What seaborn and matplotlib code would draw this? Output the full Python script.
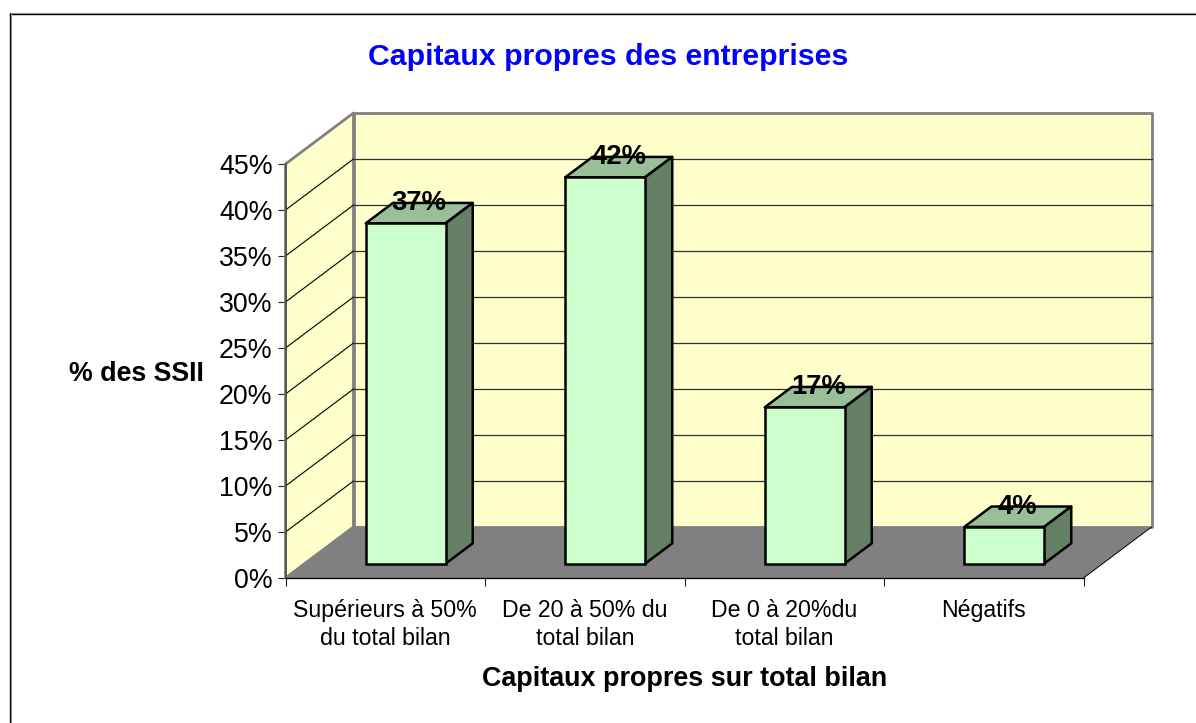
import matplotlib
matplotlib.use('Agg')
import matplotlib.pyplot as plt
from matplotlib.lines import Line2D
from matplotlib.patches import Polygon
from matplotlib.ticker import FixedLocator
import seaborn as sns

categories = ['Supérieurs à 50%\ndu total bilan', 'De 20 à 50% du\ntotal bilan', 'De 0 à 20%du\ntotal bilan', 'Négatifs']
values = [37, 42, 17, 4]
value_labels = ['37%', '42%', '17%', '4%']
y_ticks = [0, 5, 10, 15, 20, 25, 30, 35, 40, 45]
y_tick_labels = ['0%', '5%', '10%', '15%', '20%', '25%', '30%', '35%', '40%', '45%']

W, H = 1196, 723
# plot front plane in pixels
LEFT, RIGHT, BOTTOM, TOP = 285.5, 1083.5, 578, 164
# how far the back wall is pushed, in data units
DX = 68 / ((RIGHT - LEFT) / 4)
DY = 51 / ((BOTTOM - TOP) / 45)
BAR_FRONT_X = 0.30
BAR_FRONT_Y = 0.28
BAR_DEPTH = 0.40

sns.set_style('white')
plt.rcParams['font.family'] = ['Liberation Sans', 'DejaVu Sans']

fig = plt.figure(figsize=(W / 100, H / 100), dpi=100)
ax = fig.add_axes([LEFT / W, 1 - BOTTOM / H, (RIGHT - LEFT) / W, (BOTTOM - TOP) / H])

sns.barplot(x=categories, y=values, color='#CCFFCC', saturation=1, width=0.4, edgecolor='black',
            linewidth=1.8, zorder=4, ax=ax)
ax.set_xlim(-0.5, 3.5)
ax.set_ylim(0, 45)
ax.patch.set_visible(False)


def shape(points, color, edge='none', lw=0, zorder=1):
    ax.add_patch(Polygon(points, closed=True, facecolor=color, edgecolor=edge, linewidth=lw, zorder=zorder,
                         clip_on=False, joinstyle='round'))


x0, x1 = ax.get_xlim()
y0, y1 = ax.get_ylim()

# walls and floor
shape([(x0, y0), (x0 + DX, y0 + DY), (x0 + DX, y1 + DY), (x0, y1)], '#FFFFCC', '#808080', 2)
shape([(x0 + DX, y0 + DY), (x1 + DX, y0 + DY), (x1 + DX, y1 + DY), (x0 + DX, y1 + DY)], '#FFFFCC', '#808080', 2)
shape([(x0, y0), (x1, y0), (x1 + DX, y0 + DY), (x0 + DX, y0 + DY)], '#808080', zorder=1.5)
ax.plot([x1, x1 + DX], [y0, y0 + DY], color='black', lw=0.7, zorder=1.6, clip_on=False)

# gridlines
for t in y_ticks[1:-1]:
    ax.plot([x0, x0 + DX], [t, t + DY], color='black', lw=0.8, zorder=2, clip_on=False)
    ax.plot([x0 + DX, x1 + DX], [t + DY, t + DY], color='#303030', lw=0.9, zorder=2, clip_on=False)

# push the bars back and add the top and side faces
for bar, label in zip(ax.patches[:len(values)], value_labels):
    left = bar.get_x() + BAR_FRONT_X * DX
    bottom = BAR_FRONT_Y * DY
    w = bar.get_width()
    h = bar.get_height()
    bar.set_x(left)
    bar.set_y(bottom)
    bar.set_clip_on(False)
    d_x = BAR_DEPTH * DX
    d_y = BAR_DEPTH * DY
    shape([(left, bottom + h), (left + w, bottom + h), (left + w + d_x, bottom + h + d_y), (left + d_x, bottom + h + d_y)],
          '#99BF99', 'black', 1.8, zorder=3)
    shape([(left + w, bottom), (left + w + d_x, bottom + d_y), (left + w + d_x, bottom + h + d_y), (left + w, bottom + h)],
          '#668066', 'black', 1.8, zorder=3)
    ax.annotate(label, (left + w / 2 + d_x / 2, bottom + h + d_y / 2), xytext=(0, 7), textcoords='offset points',
                ha='center', va='center', fontsize=19.8, fontweight='bold', color='black', zorder=6,
                annotation_clip=False)

# axes
sns.despine(ax=ax, top=True, right=True)
ax.spines['left'].set_color('#505050')
ax.spines['left'].set_linewidth(1.2)
ax.spines['left'].set_zorder(5)
ax.spines['bottom'].set_color('black')
ax.spines['bottom'].set_linewidth(0.9)
ax.spines['bottom'].set_zorder(5)

ax.set_yticks(y_ticks)
ax.set_yticklabels(y_tick_labels, fontsize=19.3, color='black')
ax.tick_params(axis='y', left=True, length=5.8, width=0.8, color='#202020', pad=3.5)
ax.tick_params(axis='x', bottom=False, labelsize=16.7, labelcolor='black', pad=11.5)
ax.xaxis.set_minor_locator(FixedLocator([x0, x0 + 1, x0 + 2, x0 + 3, x1]))
ax.tick_params(axis='x', which='minor', bottom=True, length=6, width=0.8, color='#202020')
plt.setp(ax.get_xticklabels(), linespacing=1.3)

ax.set_xlabel('Capitaux propres sur total bilan', fontsize=19.4, fontweight='bold', color='black', va='center')
ax.xaxis.set_label_coords(0.5, -(679 - BOTTOM) / (BOTTOM - TOP))
ax.set_ylabel('% des SSII', fontsize=19.3, fontweight='bold', color='black', rotation=0, ha='center', va='center')
ax.yaxis.set_label_coords((136.5 - LEFT) / (RIGHT - LEFT), 0.5 - 3 / (BOTTOM - TOP))

fig.text(608 / W, 1 - 57 / H, 'Capitaux propres des entreprises', fontsize=21.75, fontweight='bold', color='#0000FF',
         ha='center', va='center')

# chart frame, only top and left are in the picture
fig.add_artist(Line2D([10 / W, 1], [1 - 13.5 / H, 1 - 13.5 / H], color='black', lw=1))
fig.add_artist(Line2D([10 / W, 1], [1 - 12.5 / H, 1 - 12.5 / H], color='#909090', lw=0.8))
fig.add_artist(Line2D([9.5 / W, 9.5 / W], [0, 1 - 13 / H], color='black', lw=1))
fig.add_artist(Line2D([10.5 / W, 10.5 / W], [0, 1 - 13 / H], color='#909090', lw=0.8))

fig.savefig('out.png', dpi=100)
